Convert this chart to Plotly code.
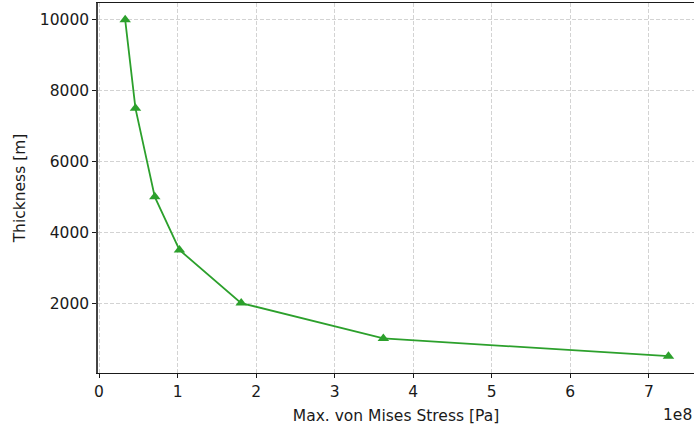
import plotly.graph_objects as go

# Maximum von Mises stress (Pa) for each layer thickness (m)
stress_pa = [3.33e7, 4.64e7, 7.10e7, 1.024e8, 1.81e8, 3.62e8, 7.25e8]
thickness_m = [10000, 7500, 5000, 3500, 2000, 1000, 500]

x_tick_vals = [0, 1e8, 2e8, 3e8, 4e8, 5e8, 6e8, 7e8]
x_tick_text = ["0", "1", "2", "3", "4", "5", "6", "7"]
y_tick_vals = [2000, 4000, 6000, 8000, 10000]
y_tick_text = ["2000", "4000", "6000", "8000", "10000"]

font_family = "DejaVu Sans"
font_size = 15.5
grid_color = "#d3d3d3"
grid_dash = "4px,2px"

fig = go.Figure()
fig.add_trace(go.Scatter(
    x=stress_pa,
    y=thickness_m,
    mode="lines+markers",
    line=dict(color="#2ca02c", width=1.8),
    marker=dict(symbol="triangle-up", size=10, color="#2ca02c"),
    showlegend=False,
))

fig.update_layout(
    width=694,
    height=430,
    margin=dict(l=98, r=0, t=3, b=57),
    paper_bgcolor="white",
    plot_bgcolor="white",
    font=dict(family=font_family, size=font_size, color="#1a1a1a"),
    xaxis=dict(
        range=[-0.013e8, 7.575e8],
        tickvals=x_tick_vals,
        ticktext=x_tick_text,
        ticks="outside",
        ticklen=4,
        tickwidth=1,
        tickcolor="#1a1a1a",
        showline=True,
        linecolor="#1a1a1a",
        linewidth=1.2,
        mirror=True,
        showgrid=True,
        gridcolor=grid_color,
        griddash=grid_dash,
        gridwidth=1,
        zeroline=False,
        title=dict(text="Max. von Mises Stress [Pa]", standoff=10,
                   font=dict(family=font_family, size=font_size)),
    ),
    yaxis=dict(
        range=[25, 10475],
        tickvals=y_tick_vals,
        ticktext=y_tick_text,
        ticks="outside",
        ticklen=4,
        tickwidth=1,
        tickcolor="#1a1a1a",
        showline=True,
        linecolor="#444444",
        linewidth=1.5,
        mirror=False,
        showgrid=True,
        gridcolor=grid_color,
        griddash=grid_dash,
        gridwidth=1,
        zeroline=False,
        title=dict(text="Thickness [m]", standoff=10,
                   font=dict(family=font_family, size=font_size)),
    ),
    annotations=[dict(
        text="1e8",
        xref="paper", yref="paper",
        x=1.0, y=-0.085,
        xanchor="right", yanchor="top",
        showarrow=False,
        font=dict(family=font_family, size=font_size, color="#1a1a1a"),
    )],
)

fig.write_html("out.html")
